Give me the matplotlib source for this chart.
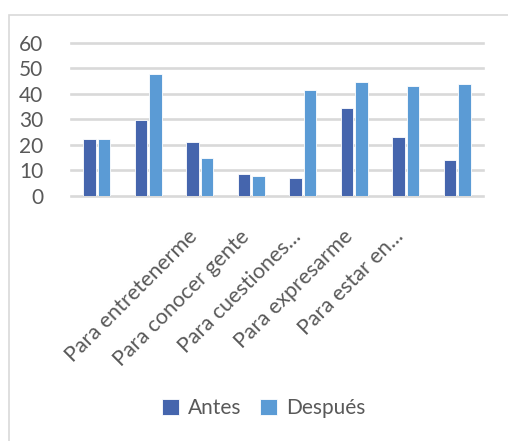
import matplotlib
matplotlib.use("Agg")
import matplotlib.pyplot as plt
import matplotlib.transforms as mtransforms
from matplotlib.patches import Rectangle
import numpy as np

categories = ["", "", "Para entretenerme", "Para conocer gente", "Para cuestiones...",
              "Para expresarme", "Para estar en...", ""]
antes = [22.5, 29.7, 21.0, 8.5, 7.0, 34.3, 23.2, 14.0]
despues = [22.5, 47.7, 14.8, 7.8, 41.4, 44.5, 43.0, 43.8]
series_names = ["Antes", "Después"]
yticks = [0, 10, 20, 30, 40, 50, 60]

plt.rcParams['font.family'] = ['Lato', 'DejaVu Sans']
txt = '#595959'

fig = plt.figure(figsize=(5.08, 4.41), dpi=100)
ax = fig.add_axes([71/508, 1-196/441, 412/508, (196-42.7)/441])

x = np.arange(len(categories))
w = 0.25
c1, c2 = '#4565AD', '#5B9BD5'
ax.bar(x - w/2 - 0.015, antes, w, color=c1, edgecolor='white', linewidth=0.6, label=series_names[0], zorder=3)
ax.bar(x + w/2 + 0.015, despues, w, color=c2, edgecolor='white', linewidth=0.6, label=series_names[1], zorder=3)

ax.set_xlim(-0.5, len(categories) - 0.5)
ax.set_ylim(0, 60)
ax.set_yticks(yticks)
ax.set_yticklabels([str(v) for v in yticks])
for v in yticks:
    ax.axhline(v, color='#d9d9d9', lw=1.9, zorder=1, clip_on=False)
for s in ax.spines.values():
    s.set_visible(False)
ax.tick_params(axis='y', length=0, pad=20, labelsize=15, labelcolor=txt)
ax.tick_params(axis='x', length=0, pad=27, labelsize=15.5, labelcolor=txt)
ax.set_xticks(x)
ax.set_xticklabels(categories, rotation=45, ha='right', va='center', rotation_mode='anchor')
offset = mtransforms.ScaledTranslation(-5/100, 0, fig.dpi_scale_trans)
for lab in ax.get_xticklabels():
    lab.set_transform(lab.get_transform() + offset)

leg = fig.legend(loc='center', bbox_to_anchor=(264/508, 1-408/441), ncol=2, frameon=False,
                 fontsize=15, labelcolor=txt, handlelength=0.8, handleheight=0.8,
                 handletextpad=0.45, columnspacing=0.9)

fig.patches.append(Rectangle((9/508, -0.1), 1.2, 1 - 15/441 + 0.1, transform=fig.transFigure,
                             fill=False, edgecolor='#d9d9d9', lw=1.2))

fig.savefig('out.png', dpi=100)
